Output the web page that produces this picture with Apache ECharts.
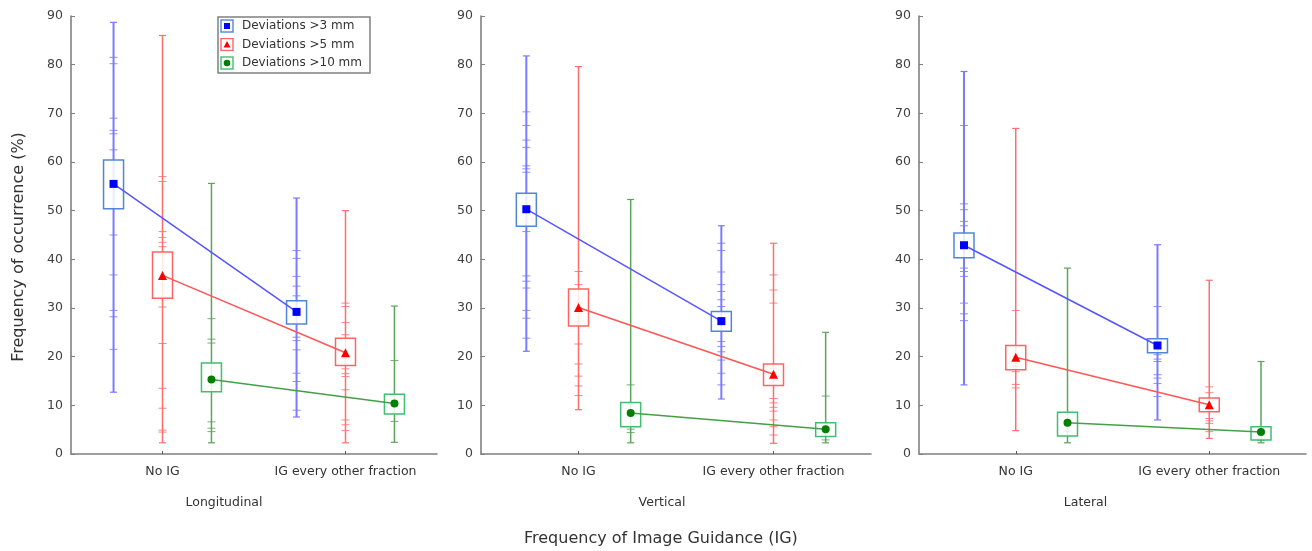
<!DOCTYPE html>
<html>
<head>
<meta charset="utf-8">
<script src="https://cdn.jsdelivr.net/npm/echarts@6/dist/echarts.min.js"></script>
<style>
  html, body { margin: 0; padding: 0; background: #ffffff; }
  #chart { width: 1312px; height: 551px; }
</style>
</head>
<body>
<div id="chart"></div>
<script>
// ---------------- DATA ----------------
const categories = ['No IG', 'IG every other fraction'];
const panelNames = ['Longitudinal', 'Vertical', 'Lateral'];
const groupNames = ['Deviations >3 mm', 'Deviations >5 mm', 'Deviations >10 mm'];
const yAxisTitle = 'Frequency of occurrence (%)';
const xAxisTitle = 'Frequency of Image Guidance (IG)';
const yMin = 0, yMax = 90, yStep = 10;

// rows: >3 mm, >5 mm, >10 mm ; columns: No IG, IG every other fraction
const longitudinalMean    = [[55.5, 29.2], [36.7, 20.8], [15.3, 10.4]];
const longitudinalBoxLow  = [[50.4, 26.7], [32.0, 18.2], [12.8, 8.2]];
const longitudinalBoxHigh = [[60.4, 31.5], [41.5, 23.8], [18.7, 12.3]];
const longitudinalMin     = [[12.7, 7.6], [2.3, 2.3], [2.3, 2.4]];
const longitudinalMax     = [[88.7, 52.6], [86.0, 50.0], [55.6, 30.4]];
const longitudinalPoints  = [
  [[81.5, 80.2, 69, 66.5, 65.8, 62.5, 45, 36.8, 29.5, 28.2, 21.5], [41.8, 40.2, 36.5, 34.5, 32.5, 24, 23.3, 21.4, 16.6, 14.9, 9.0]],
  [[57, 56, 45.7, 44.5, 43.5, 42.6, 32.3, 30.2, 22.7, 13.5, 9.4, 4.9, 4.5], [31, 30.3, 27, 24.5, 17.5, 16.5, 15.9, 13.2, 7, 6, 4.8]],
  [[27.8, 23.6, 22.8, 14, 6.6, 5.3, 4.6], [19.2, 11, 6.7]]
];

const verticalMean    = [[50.3, 27.3], [30.1, 16.4], [8.4, 5.1]];
const verticalBoxLow  = [[46.8, 25.2], [26.3, 14.1], [5.6, 3.6]];
const verticalBoxHigh = [[53.6, 29.3], [33.9, 18.5], [10.6, 6.4]];
const verticalMin     = [[21.1, 11.3], [9.1, 2.2], [2.3, 2.3]];
const verticalMax     = [[81.8, 46.9], [79.6, 43.3], [52.3, 25.0]];
const verticalPoints  = [
  [[70.3, 67.5, 64.5, 63, 59.2, 58.6, 57.9, 45.7, 36.6, 35.5, 34.1, 29.5, 27.9, 23.8], [43.3, 41.8, 37.4, 34.8, 33.4, 31.7, 30.3, 23.1, 22.1, 21, 19.3, 16.6, 14.2]],
  [[37.5, 34.8, 31.1, 28.9, 27.2, 22.6, 18.5, 16, 14, 12], [36.8, 33.7, 31, 17.6, 11.4, 10.5, 9.6, 8.8, 7, 5.6, 3.9]],
  [[14.2, 10.1, 5.1, 4.4], [11.9, 2.9]]
];

const lateralMean    = [[42.9, 22.3], [19.9, 10.1], [6.4, 4.5]];
const lateralBoxLow  = [[40.3, 20.8], [17.3, 8.7], [3.7, 2.9]];
const lateralBoxHigh = [[45.4, 23.7], [22.3, 11.5], [8.6, 5.6]];
const lateralMin     = [[14.2, 7.0], [4.8, 3.2], [2.3, 2.3]];
const lateralMax     = [[78.6, 43.0], [66.9, 35.7], [38.2, 19.0]];
const lateralPoints  = [
  [[67.5, 51.4, 50.2, 47.8, 46.9, 38.2, 37.5, 36.5, 31, 28.8, 27.4], [30.3, 20.4, 19.5, 19, 16.3, 15.6, 14.5, 11.8]],
  [[29.5, 18.1, 16.9, 14.3, 13.6], [13.8, 12.6, 7.3, 6.8, 6.3, 4.6]],
  [[4.9, 4.6], [3.2, 2.8]]
];

// ---------------- STYLE / LAYOUT ----------------
const FONT = 'DejaVu Sans';
const panels = [
  { mean: longitudinalMean, lo: longitudinalBoxLow, hi: longitudinalBoxHigh, min: longitudinalMin, max: longitudinalMax, pts: longitudinalPoints },
  { mean: verticalMean, lo: verticalBoxLow, hi: verticalBoxHigh, min: verticalMin, max: verticalMax, pts: verticalPoints },
  { mean: lateralMean, lo: lateralBoxLow, hi: lateralBoxHigh, min: lateralMin, max: lateralMax, pts: lateralPoints }
];
const gridRects = [
  { left: 71, width: 366, namePad: 60 },
  { left: 481, width: 390, namePad: 28 },
  { left: 919, width: 387, namePad: 54 }
];
const groupStyle = [
  { whisker: '#7b7bff', whiskerW: 2, box: '#4f86d9', line: '#5555ff', marker: '#0000ff', symbol: 'rect', size: 8 },
  { whisker: '#ff6e6e', whiskerW: 1.5, box: '#ff6464', line: '#ff5555', marker: '#ff0000', symbol: 'triangle', size: 9 },
  { whisker: '#5aa55a', whiskerW: 1.5, box: '#3fbf6f', line: '#45a045', marker: '#007f00', symbol: 'circle', size: 8 }
];
const GROUP_OFFSET = 0.535;  // fraction of hidden value-axis unit (categories sit at 1 and 3)
const BOX_W = 20;
function xPos(ci, g) { return 1 + 2 * ci + (g - 1) * GROUP_OFFSET; }

function svgIcon(g) {
  const s = groupStyle[g];
  let inner = '';
  if (g === 0) inner = `<rect x="4" y="4" width="6" height="6" fill="${s.marker}"/>`;
  if (g === 1) inner = `<polygon points="7,3.5 10.5,10 3.5,10" fill="${s.marker}"/>`;
  if (g === 2) inner = `<circle cx="7" cy="7" r="3.3" fill="${s.marker}"/>`;
  const svg = `<svg xmlns="http://www.w3.org/2000/svg" width="14" height="14" viewBox="0 0 14 14"><rect x="1" y="1" width="12" height="12" fill="#fff" stroke="${s.box}" stroke-width="1.4"/>${inner}</svg>`;
  return 'image://data:image/svg+xml;charset=utf-8,' + encodeURIComponent(svg);
}

const grids = [], xAxes = [], yAxes = [], series = [];
panels.forEach((P, p) => {
  const gr = gridRects[p];
  grids.push({ left: gr.left, width: gr.width, top: 16, height: 438 });
  xAxes.push({
    type: 'category', gridIndex: p, data: categories, boundaryGap: true,
    name: panelNames[p], nameLocation: 'middle', nameGap: 42,
    nameTextStyle: { fontFamily: FONT, fontSize: 12.5, color: '#333', padding: [0, gr.namePad, 0, 0] },
    axisLine: { show: true, lineStyle: { color: '#808080', width: 1.6 } },
    axisTick: { show: true, alignWithLabel: true, inside: true, length: 3, lineStyle: { color: '#555' } },
    axisLabel: { interval: 0, hideOverlap: false, fontFamily: FONT, fontSize: 12.5, color: '#333', margin: 11 },
    splitLine: { show: false }
  });
  yAxes.push({
    type: 'value', gridIndex: p, min: yMin, max: yMax, interval: yStep,
    name: p === 0 ? yAxisTitle : '', nameLocation: 'middle', nameRotate: 90, nameGap: 44,
    nameTextStyle: { fontFamily: FONT, fontSize: 16, color: '#333', padding: [0, 24, 0, 0] },
    axisLine: { show: true, onZero: false, lineStyle: { color: '#808080', width: 1.6 } },
    axisTick: { show: true, inside: true, length: 4, lineStyle: { color: '#808080' } },
    axisLabel: { fontFamily: FONT, fontSize: 12.5, color: '#404040', margin: 8 },
    splitLine: { show: false }
  });
});
// hidden value x axes used to place the grouped marks
panels.forEach((P, p) => {
  xAxes.push({ type: 'value', gridIndex: p, min: 0, max: 4, show: false });
});

panels.forEach((P, p) => {
  groupNames.forEach((gName, g) => {
    const st = groupStyle[g];
    // whiskers (min - max) with caps
    series.push({
      type: 'custom', name: gName, xAxisIndex: 3 + p, yAxisIndex: p, z: 2, silent: true,
      data: categories.map((c, ci) => [xPos(ci, g), P.min[g][ci], P.max[g][ci]]),
      renderItem: (params, api) => {
        const top = api.coord([api.value(0), api.value(2)]);
        const bot = api.coord([api.value(0), api.value(1)]);
        const x = top[0];
        return { type: 'group', children: [
          { type: 'line', shape: { x1: x, y1: top[1], x2: x, y2: bot[1] }, style: { stroke: st.whisker, lineWidth: st.whiskerW } },
          { type: 'line', shape: { x1: x - 3.5, y1: top[1], x2: x + 3.5, y2: top[1] }, style: { stroke: st.whisker, lineWidth: 1.2 } },
          { type: 'line', shape: { x1: x - 3.5, y1: bot[1], x2: x + 3.5, y2: bot[1] }, style: { stroke: st.whisker, lineWidth: 1.2 } }
        ] };
      }
    });
    // individual observations as short dashes
    const pts = [];
    categories.forEach((c, ci) => P.pts[g][ci].forEach(v => pts.push([xPos(ci, g), v])));
    series.push({
      type: 'custom', name: gName, xAxisIndex: 3 + p, yAxisIndex: p, z: 2, silent: true,
      data: pts,
      renderItem: (params, api) => {
        const pt = api.coord([api.value(0), api.value(1)]);
        return { type: 'line', shape: { x1: pt[0] - 4, y1: pt[1], x2: pt[0] + 4, y2: pt[1] }, style: { stroke: st.whisker, lineWidth: 1, opacity: 0.85 } };
      }
    });
    // boxes
    series.push({
      type: 'custom', name: gName, xAxisIndex: 3 + p, yAxisIndex: p, z: 3, silent: true,
      data: categories.map((c, ci) => [xPos(ci, g), P.lo[g][ci], P.hi[g][ci]]),
      renderItem: (params, api) => {
        const top = api.coord([api.value(0), api.value(2)]);
        const bot = api.coord([api.value(0), api.value(1)]);
        return { type: 'rect', shape: { x: top[0] - BOX_W / 2, y: top[1], width: BOX_W, height: bot[1] - top[1] },
          style: { fill: 'rgba(255,255,255,0.85)', stroke: st.box, lineWidth: 1.5 } };
      }
    });
    // means connected by a line
    series.push({
      type: 'line', name: gName, xAxisIndex: 3 + p, yAxisIndex: p, z: 4,
      data: categories.map((c, ci) => [xPos(ci, g), P.mean[g][ci]]),
      symbol: st.symbol, symbolSize: st.size, showSymbol: true,
      itemStyle: { color: st.marker },
      lineStyle: { color: st.line, width: 1.5 },
      emphasis: { disabled: true }
    });
  });
});

const chart = echarts.init(document.getElementById('chart'));
chart.setOption({
  animation: false,
  backgroundColor: '#ffffff',
  title: {
    text: xAxisTitle, left: 524, top: 531, padding: 0,
    textStyle: { fontFamily: FONT, fontSize: 16, fontWeight: 'normal', color: '#333' }
  },
  legend: {
    orient: 'vertical', left: 218, top: 17,
    data: groupNames.map((n, g) => ({ name: n, icon: svgIcon(g) })),
    itemWidth: 14, itemHeight: 14, itemGap: 4.5,
    padding: [2, 8, 3, 2],
    backgroundColor: '#ffffff', borderColor: '#808080', borderWidth: 1.5,
    textStyle: { fontFamily: FONT, fontSize: 12, color: '#333', padding: [0, 0, 0, 3] },
    selectedMode: false
  },
  grid: grids,
  xAxis: xAxes,
  yAxis: yAxes,
  series: series
});
</script>
</body>
</html>
